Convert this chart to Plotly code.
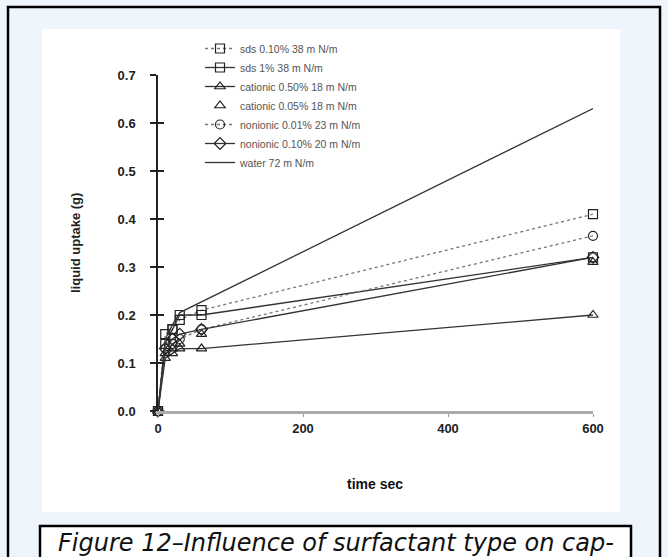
import plotly.graph_objects as go

# ---------------- data ----------------
t = [0, 10, 20, 30, 60, 600]
sds_010 = [0.0, 0.16, 0.17, 0.19, 0.21, 0.41]
sds_1 = [0.0, 0.14, 0.17, 0.20, 0.20, 0.32]
cat_050 = [0.0, 0.11, 0.12, 0.13, 0.13, 0.20]
cat_005 = [0.0, 0.12, 0.13, 0.14, 0.16, 0.31]
non_001 = [0.0, 0.13, 0.14, 0.15, 0.17, 0.365]
non_010 = [0.0, 0.13, 0.15, 0.16, 0.17, 0.32]
t_water = [0, 10, 20, 30, 600]
water = [0.0, 0.15, 0.18, 0.205, 0.63]

names = ["sds 0.10% 38 m N/m", "sds 1% 38 m N/m", "cationic 0.50% 18 m N/m",
         "cationic 0.05% 18 m N/m", "nonionic 0.01% 23 m N/m",
         "nonionic 0.10% 20 m N/m", "water 72 m N/m"]
x_ticks = [0, 200, 400, 600]
y_ticks = [0.0, 0.1, 0.2, 0.3, 0.4, 0.5, 0.6, 0.7]
x_title = "time sec"
y_title = "liquid uptake (g)"
caption_1 = "Figure 12–Influence of surfactant type on cap-"
caption_2 = "illary uptake as a function of time. Curves in the"

# ---------------- layout geometry ----------------
W, H = 668, 557
L, R, T, B = 158, 593, 75, 411  # plot area pixel box


def px(x):
    return (x - L) / (R - L)


def py(y):
    return (B - y) / (B - T)


DARK = "#333333"
DOT = "#777777"

fig = go.Figure()
series = [
    (sds_010, t, "lines+markers", "square-open", "dot", DOT),
    (sds_1, t, "lines+markers", "square-open", "solid", DARK),
    (cat_050, t, "lines+markers", "triangle-up-open", "solid", DARK),
    (cat_005, t, "markers", "triangle-up-open", "solid", DARK),
    (non_001, t, "lines+markers", "circle-open", "dot", DOT),
    (non_010, t, "lines+markers", "diamond-open", "solid", DARK),
    (water, t_water, "lines", "circle", "solid", DARK),
]
for (ys, xs, mode, sym, dash, col), name in zip(series, names):
    fig.add_trace(go.Scatter(
        x=xs, y=ys, mode=mode, name=name, cliponaxis=False,
        line=dict(color=col, width=1.3, dash=dash),
        marker=dict(symbol=sym, size=9, color="#222222",
                    line=dict(width=1.2, color="#222222")),
    ))
# helper empty trace for crossing ticks axis
fig.add_trace(go.Scatter(x=[], y=[], yaxis="y2", showlegend=False))

shapes = [
    # outer border
    dict(type="rect", xref="paper", yref="paper", x0=px(8), x1=px(660), y0=py(620), y1=py(7),
         line=dict(color="black", width=2.5), fillcolor="#eef5fc", layer="below"),
    # white panel
    dict(type="rect", xref="paper", yref="paper", x0=px(42), x1=px(620), y0=py(512), y1=py(29),
         line=dict(width=0), fillcolor="white", layer="below"),
    # caption box
    dict(type="rect", xref="paper", yref="paper", x0=px(40), x1=px(631), y0=py(640), y1=py(526),
         line=dict(color="black", width=2.5), fillcolor="white", layer="below"),
]

cap_font = dict(size=24, color="#111", family="DejaVu Sans")
annotations = [
    dict(text="<b>" + y_title + "</b>", xref="paper", yref="paper", x=px(75), y=py(243),
         textangle=-90, showarrow=False, font=dict(size=13, color="#222"),
         xanchor="center", yanchor="middle"),
    dict(text="<b>" + x_title + "</b>", xref="paper", yref="paper", x=px(375), y=py(484),
         showarrow=False, font=dict(size=14, color="#111"), xanchor="center", yanchor="middle"),
    dict(text="<i>" + caption_1 + "</i>", xref="paper", yref="paper", x=px(336), y=py(543),
         showarrow=False, font=cap_font, xanchor="center", yanchor="middle"),
    dict(text="<i>" + caption_2 + "</i>", xref="paper", yref="paper", x=px(336), y=py(574),
         showarrow=False, font=cap_font, xanchor="center", yanchor="middle"),
]

fig.update_layout(
    width=W, height=H,
    margin=dict(l=L, r=W - R, t=T, b=H - B, autoexpand=False),
    paper_bgcolor="#eef5fc", plot_bgcolor="rgba(0,0,0,0)",
    font=dict(family="Liberation Sans", color="#333"),
    showlegend=True,
    legend=dict(x=px(200), y=py(34), xanchor="left", yanchor="top",
                bgcolor="rgba(0,0,0,0)", font=dict(size=10.5, color="#555"),
                tracegroupgap=0),
    shapes=shapes, annotations=annotations,
    xaxis=dict(range=[0, 600], tickvals=x_ticks, ticktext=[f"<b>{v}</b>" for v in x_ticks],
               showgrid=False, zeroline=False,
               showline=True, linecolor="#aaaaaa", linewidth=3,
               ticks="outside", ticklen=3, tickcolor="#999", tickwidth=1,
               tickfont=dict(size=13, color="#222"), ticklabelstandoff=0),
    yaxis=dict(range=[0, 0.7], tickvals=y_ticks, ticktext=[f"<b>{v:.1f}</b>" for v in y_ticks],
               showgrid=False, zeroline=False, showline=True, linecolor="#222",
               linewidth=1.5, ticks="outside", ticklen=6, tickcolor="#222", tickwidth=1.5,
               tickfont=dict(size=13, color="#222"), ticklabelstandoff=12),
    yaxis2=dict(range=[0, 0.7], tickvals=y_ticks, overlaying="y", side="left",
                showgrid=False, zeroline=False, showline=False, showticklabels=False,
                ticks="inside", ticklen=6, tickcolor="#222", tickwidth=1.5),
)

fig.write_html("out.html")
